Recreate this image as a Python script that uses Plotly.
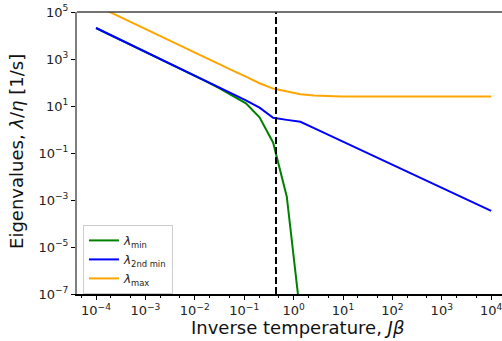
import numpy as np
import plotly.graph_objects as go

# Inverse temperature sampling grid (30 log-spaced points from 1e-4 to 1e4)
beta_J = np.logspace(-4, 4, 30)

lam_min = [2.09e4, 1.10e4, 5750, 3020, 1585, 832, 437, 228, 118, 58.9,
           28.2, 13.0, 3.31, 0.275, 1.38e-3, 1.32e-8, 1e-13]
lam_2nd = [2.09e4, 1.10e4, 5750, 3020, 1585, 832, 437, 229, 120, 63.1,
           33.1, 17.4, 8.51, 3.16, 2.57, 2.14, 1.15, 0.617, 0.331, 0.178,
           0.0955, 0.0513, 0.0275, 0.0148, 7.94e-3, 4.27e-3, 2.24e-3, 1.20e-3,
           6.46e-4, 3.47e-4]
lam_max = [1.9e5, 1.0e5, 5.25e4, 2.82e4, 1.48e4, 7940, 4270, 2240, 1175, 631,
           331, 178, 93.3, 55.0, 40.7, 31.6, 28.2, 26.3, 25.4, 25.2,
           25.1, 25.1, 25.1, 25.1, 25.1, 25.1, 25.1, 25.1, 25.1, 25.1]
beta_c = 0.4407

x_ticks = [1e-4, 1e-3, 1e-2, 1e-1, 1e0, 1e1, 1e2, 1e3, 1e4]
x_tick_text = ["10<sup>−4</sup>", "10<sup>−3</sup>", "10<sup>−2</sup>", "10<sup>−1</sup>",
               "10<sup>0</sup>", "10<sup>1</sup>", "10<sup>2</sup>", "10<sup>3</sup>", "10<sup>4</sup>"]
y_ticks = [1e-7, 1e-5, 1e-3, 1e-1, 1e1, 1e3, 1e5]
y_tick_text = ["10<sup>−7</sup>", "10<sup>−5</sup>", "10<sup>−3</sup>", "10<sup>−1</sup>",
               "10<sup>1</sup>", "10<sup>3</sup>", "10<sup>5</sup>"]

FONT = "DejaVu Sans"

fig = go.Figure()
fig.add_trace(go.Scatter(x=beta_J[:len(lam_min)], y=lam_min, mode="lines",
                         line=dict(color="green", width=2),
                         name="<i>λ</i><sub>min</sub>"))
fig.add_trace(go.Scatter(x=beta_J, y=lam_2nd, mode="lines",
                         line=dict(color="blue", width=2),
                         name="<i>λ</i><sub>2nd min</sub>"))
fig.add_trace(go.Scatter(x=beta_J, y=lam_max, mode="lines",
                         line=dict(color="orange", width=2),
                         name="<i>λ</i><sub>max</sub>"))
fig.add_trace(go.Scatter(x=[beta_c, beta_c], y=[1e-7, 1e5], mode="lines",
                         line=dict(color="black", width=2, dash="7px,3px"),
                         showlegend=False, hoverinfo="skip"))

fig.update_layout(
    width=502, height=341,
    margin=dict(l=77, r=0, t=12, b=47, autoexpand=False),
    paper_bgcolor="white", plot_bgcolor="white",
    font=dict(family=FONT, color="#222", size=13),
    showlegend=True,
    legend=dict(x=0.014, y=0.245, xanchor="left", yanchor="top",
                bgcolor="rgba(255,255,255,0.8)", bordercolor="#cccccc", borderwidth=1,
                font=dict(family=FONT, size=12, color="#222"),
                tracegroupgap=0, itemwidth=30),
    xaxis=dict(type="log", range=[-4.385, 4.219], automargin=False,
               tickvals=x_ticks, ticktext=x_tick_text, ticklabeloverflow="allow",
               ticks="outside", ticklen=4, tickwidth=1, tickcolor="black",
               showline=True, linecolor="black", linewidth=1.5, mirror=False,
               showgrid=False, zeroline=False,
               minor=dict(ticks="outside", ticklen=2, tickcolor="black", showgrid=False),
               tickfont=dict(family=FONT, size=13, color="#222")),
    yaxis=dict(type="log", range=[-7, 5], automargin=False,
               tickvals=y_ticks, ticktext=y_tick_text, ticklabeloverflow="allow",
               ticks="outside", ticklen=4, tickwidth=1, tickcolor="black",
               showline=True, linecolor="#808080", linewidth=2, mirror=False,
               showgrid=False, zeroline=False,
               tickfont=dict(family=FONT, size=13, color="#222")),
    shapes=[dict(type="line", xref="paper", yref="paper", x0=0, x1=1, y0=1, y1=1,
                 line=dict(color="#444", width=1.5), layer="above")],
    annotations=[
        dict(text="Inverse temperature, <i>Jβ</i>", xref="paper", yref="paper",
             x=0.518, y=-0.12, xanchor="center", yanchor="middle", showarrow=False,
             font=dict(family=FONT, size=18, color="#111")),
        dict(text="Eigenvalues, <i>λ</i>/<i>η</i> [1/s]", xref="paper", yref="paper",
             x=-0.141, y=0.504, xanchor="center", yanchor="middle", showarrow=False,
             textangle=-90, font=dict(family=FONT, size=18, color="#111")),
    ],
)

fig.write_html("out.html", config={"displayModeBar": False},
               post_script="document.body.style.margin='0';document.body.style.overflow='hidden';")
